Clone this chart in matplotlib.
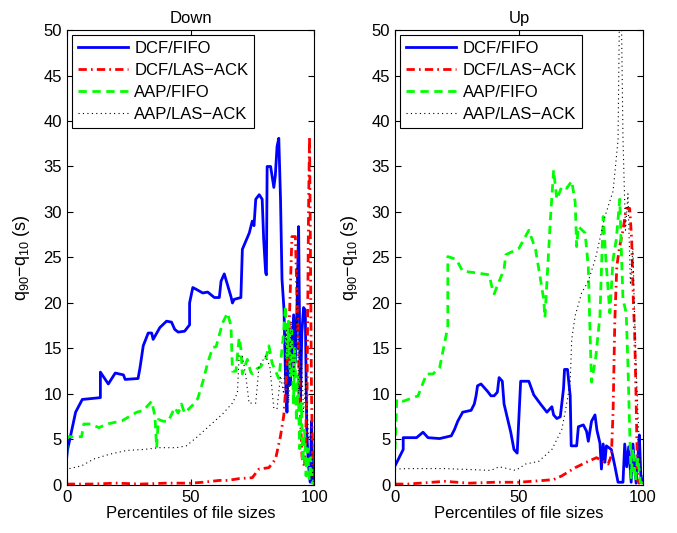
import matplotlib
matplotlib.use("Agg")
import matplotlib.pyplot as plt

plt.rcParams['font.family'] = ['Liberation Sans', 'DejaVu Sans']
plt.rcParams['mathtext.default'] = 'regular'

# ---- Down ----
down_dcf_fifo_x = [0, 0.3, 3.6, 6.3, 10, 13.6, 13.6, 16.8, 19.6, 22.9, 23.6, 28.8, 29.6, 30.9, 32.9, 34.3, 34.9,
                   37.6, 40.3, 42.3, 43.6, 45, 47.6, 49.6, 49.6, 50.9, 52.3, 54.9, 56.9, 59.6, 61.6, 62.3, 63.6,
                   64.9, 66.3, 66.9, 67.6, 70.3, 70.9, 73.7, 74.9, 75.6, 76.3, 77.7, 78.9, 79.5, 80.3, 80.6, 80.9,
                   82.3, 83.6, 84.2, 84.9, 85.6, 86.3, 86.9, 87.7, 88.3, 88.9, 89.6, 90.2, 90.9, 91.6, 92.3, 92.9,
                   93.6, 93.9, 94.3, 94.9, 95.6, 96.3, 96.9, 97.6, 98.3, 98.8, 99.3, 100]
down_dcf_fifo_y = [3.0, 3.8, 8.0, 9.4, 9.5, 9.6, 12.4, 11.1, 12.3, 12.1, 11.6, 11.7, 12.9, 15.3, 16.7, 16.7, 16.0,
                   17.3, 18.0, 17.9, 17.1, 16.8, 16.9, 17.6, 20.0, 21.7, 21.5, 21.1, 21.2, 20.6, 20.6, 22.4, 23.2,
                   22.0, 20.7, 20.0, 20.4, 20.6, 25.9, 27.7, 29.0, 28.5, 31.4, 31.9, 31.4, 27.0, 23.3, 23.1, 35.0,
                   35.0, 32.7, 34.0, 37.2, 38.1, 31.4, 22.6, 19.3, 12.0, 8.0, 17.5, 11.0, 15.0, 18.7, 13.5, 19.0,
                   28.4, 20.0, 8.7, 16.7, 19.5, 19.2, 5.7, 2.1, 0.3, 7.0, 1.0, 0.2]

down_dcf_las_x = [0, 5, 10, 20, 30, 40, 50, 55, 61.6, 65, 69.6, 74.9, 77.6, 81.6, 84.3, 86.3, 87.6, 88.3, 89.6,
                  90.3, 90.9, 92.3, 93.0, 94.0, 95.0, 96.0, 97.0, 97.6, 98.0, 98.4, 98.8, 99.3, 100]
down_dcf_las_y = [0.1, 0.1, 0.1, 0.2, 0.1, 0.2, 0.2, 0.3, 0.5, 0.5, 0.7, 0.8, 1.75, 1.9, 2.85, 5.4, 7.6, 10.2, 16.0,
                  21.9, 27.3, 27.3, 20.0, 10.0, 3.0, 2.0, 10.0, 30.0, 38.3, 25.0, 10.0, 2.0, 0.0]

down_aap_fifo_x = [0, 0.3, 6, 6.9, 9.6, 13, 16.3, 22.3, 28.3, 31, 34.3, 35.6, 36.3, 37, 39, 41, 43.6, 45, 46.3,
                   47.6, 50.9, 52.9, 54.9, 56.9, 58.9, 60.3, 62.9, 64.9, 66.3, 66.9, 68.3, 69.6, 70.3, 70.9, 72.9,
                   74.3, 74.9, 76.9, 78.3, 80.3, 81.6, 82.9, 85.6, 86.3, 87.3, 88.3, 88.9, 89.5, 90.2, 90.8, 91.5,
                   92.1, 92.7, 93.4, 94.0, 94.7, 95.3, 96.0, 96.6, 97.2, 97.9, 98.5, 99.1, 100]
down_aap_fifo_y = [3.5, 5.3, 5.3, 6.7, 6.7, 6.3, 6.7, 7.05, 8.0, 8.2, 9.2, 7.6, 4.1, 7.2, 7.0, 7.0, 8.5, 7.9, 8.9,
                   7.9, 8.8, 9.5, 11.3, 13.4, 15.1, 15.2, 17.8, 18.9, 17.5, 12.5, 12.5, 16.2, 15.0, 12.2, 13.8,
                   12.4, 12.2, 12.8, 13.0, 13.8, 15.3, 13.4, 11.7, 13.4, 16.0, 19.7, 14.0, 18.0, 12.0, 17.0, 9.0,
                   15.0, 7.0, 12.0, 4.0, 9.0, 2.5, 6.0, 1.0, 4.0, 0.5, 3.0, 0.2, 0.5]

down_aap_las_x = [0, 0.3, 6, 10.9, 17.6, 24.3, 30.9, 37.6, 44.3, 48.3, 52.3, 57.6, 62.9, 66.9, 68.9, 69.6, 70.9,
                  72.3, 73.6, 76.3, 77.6, 80.3, 82, 83.6, 84.9, 86.3, 87.6, 88.6, 89.6, 90.6, 91.6, 92.6, 93.0,
                  93.6, 94.6, 95.6, 96.6, 97.6, 98.6, 99.3, 100]
down_aap_las_y = [1.5, 1.75, 2.1, 2.85, 3.4, 3.8, 3.9, 4.1, 4.1, 4.3, 5.2, 6.5, 7.8, 9.0, 10.1, 14.2, 14.2,
                  12.0, 9.0, 9.0, 13.0, 14.2, 13.0, 8.4, 8.4, 12.0, 10.0, 17.0, 9.0, 18.0, 12.0, 16.0, 24.0,
                  10.0, 15.0, 8.0, 12.0, 5.0, 6.0, 1.0, 0.0]

# ---- Up ----
up_dcf_fifo_x = [0, 3.3, 3.3, 8.7, 11.3, 13.3, 18, 22.7, 24, 25.3, 27.3, 30.7, 32, 32.7, 33.3, 34.7, 37.3, 38.7,
                 40, 41.3, 42, 43.3, 44, 45.3, 46.7, 48, 49.3, 50.7, 54, 56, 58.7, 61.3, 63.3, 64, 65.3, 66.7, 68,
                 68.4, 69.6, 70.7, 71.1, 73.3, 74, 76, 77.3, 78, 79.3, 80.7, 81.5, 82.7, 83.3, 84, 84.7, 85.3,
                 87.3, 88.7, 90, 92, 92.7, 93.5, 94.3, 95.3, 96, 97.3, 98, 98.6, 99.2, 100]
up_dcf_fifo_y = [2.1, 3.9, 5.2, 5.2, 5.8, 5.2, 5.1, 5.4, 6.1, 7.0, 8.0, 8.2, 8.9, 9.8, 10.9, 11.1, 10.3, 9.8,
                 9.8, 10.2, 11.8, 11.4, 8.9, 7.4, 5.8, 3.9, 3.5, 11.4, 11.4, 9.9, 8.9, 8.0, 8.6, 7.7, 7.3, 7.5, 10.6,
                 12.7, 12.7, 9.8, 4.3, 4.3, 6.4, 6.6, 5.9, 4.8, 7.0, 7.7, 6.0, 4.6, 1.75, 4.5, 2.5, 4.3,
                 3.9, 2.1, 0.3, 0.3, 4.5, 2.0, 4.2, 0.3, 4.5, 0.2, 3.0, 5.5, 1.0, 0.3]

up_dcf_las_x = [0, 5, 10, 20, 30, 40, 50, 55, 60, 64, 67.3, 72.7, 78, 81.3, 84, 86, 87.3, 88, 88.7, 89.5, 90.5,
                92, 93.3, 94.7, 95.5, 96.2, 96.7, 97.3, 97.9, 98.5, 99.2, 100]
up_dcf_las_y = [0.1, 0.1, 0.2, 0.4, 0.2, 0.3, 0.3, 0.4, 0.5, 0.6, 1.0, 1.9, 2.6, 3.0, 2.6, 2.3, 3.2, 8.0, 18.0,
                24.0, 26.0, 28.0, 30.4, 30.4, 27.0, 20.0, 16.7, 9.4, 0.5, 0.2, 0.3, 0.2]

up_aap_fifo_x = [0, 0.7, 3.3, 9.3, 12.7, 15.3, 18, 20, 21.3, 21.3, 24.7, 27.3, 33, 38, 39.3, 40, 41.3, 44, 44.7,
                 50, 54, 56.7, 58.7, 60, 60.5, 62.7, 64, 65.3, 67.3, 69.3, 71.3, 72.7, 73.3, 74, 76.7, 78, 78.7,
                 79.3, 81, 82.7, 84, 85.3, 86.7, 88, 89.3, 90.7, 91.3, 92, 93.3, 94, 94.7, 95.3, 96, 97, 98, 99, 100]
up_aap_fifo_y = [3.9, 9.4, 9.2, 9.8, 12.2, 12.2, 12.9, 15.6, 17.4, 25.1, 24.8, 23.5, 23.3, 23.1, 21.5, 21.0,
                 21.9, 23.7, 25.3, 26.0, 28.0, 25.9, 22.6, 20.4, 18.4, 29.2, 34.6, 31.4, 32.8, 32.6, 33.4, 31.1,
                 26.2, 28.4, 27.7, 24.0, 16.7, 11.3, 14.0, 18.6, 29.5, 24.0, 18.9, 24.8, 27.0, 31.4, 26.0, 20.4,
                 18.9, 13.2, 6.0, 0.8, 4.0, 0.5, 3.0, 0.3, 0.2]

up_aap_las_x = [0, 5, 10, 20, 30, 38.7, 42, 48.7, 52.7, 58, 63.3, 67.3, 69, 70.7, 71.3, 72.7, 75.3, 78, 81, 84.7,
                88, 90, 90.7, 91.2, 92, 93, 94, 95, 96, 97, 98, 99, 100]
up_aap_las_y = [1.75, 1.8, 1.8, 1.8, 1.7, 1.6, 2.0, 1.6, 2.3, 2.6, 3.9, 6.1, 8.5, 11.3, 16.0, 18.6, 21.1, 22.4,
                25.0, 29.5, 32.3, 37.9, 55, 55, 38.0, 28.0, 32.0, 22.0, 26.0, 15.0, 8.0, 2.0, 0.5]

labels = ['DCF/FIFO', 'DCF/LAS\u2212ACK', 'AAP/FIFO', 'AAP/LAS\u2212ACK']
titles = ['Down', 'Up']

fig = plt.figure(figsize=(6.77, 5.33), dpi=100)
ax1 = fig.add_axes([0.0985, 0.0901, 0.366, 0.8536])
ax2 = fig.add_axes([0.5835, 0.0901, 0.366, 0.8536])

panels = [
    (ax1, down_dcf_fifo_x, down_dcf_fifo_y, down_dcf_las_x, down_dcf_las_y,
     down_aap_fifo_x, down_aap_fifo_y, down_aap_las_x, down_aap_las_y),
    (ax2, up_dcf_fifo_x, up_dcf_fifo_y, up_dcf_las_x, up_dcf_las_y,
     up_aap_fifo_x, up_aap_fifo_y, up_aap_las_x, up_aap_las_y),
]

for i, (ax, x1, y1, x2, y2, x3, y3, x4, y4) in enumerate(panels):
    ax.plot(x1, y1, color='#0000ff', lw=2.0, label=labels[0])
    ax.plot(x2, y2, color='#ff0000', lw=2.0, linestyle=(0, (3, 1.5, 0.6, 1.5)), label=labels[1])
    ax.plot(x3, y3, color='#00ff00', lw=2.0, linestyle=(0, (3, 2)), label=labels[2])
    ax.plot(x4, y4, color='black', lw=0.8, linestyle=(0, (1, 3)), label=labels[3])
    ax.set_xlim(0, 100)
    ax.set_ylim(0, 50)
    ax.set_xticks([0, 50, 100])
    ax.set_yticks(range(0, 51, 5))
    ax.tick_params(direction='in', top=True, right=True, length=4, labelsize=12)
    ax.set_title(titles[i], fontsize=12, pad=5)
    ax.set_xlabel('Percentiles of file sizes', fontsize=12, labelpad=1)
    ax.set_ylabel('q$_{90}$\u2212q$_{10}$ (s)', fontsize=13, labelpad=8)
    leg = ax.legend(loc='upper left', fontsize=12, frameon=True, fancybox=False, framealpha=1,
                    edgecolor='black', handlelength=3.0, labelspacing=0.42, borderpad=0.35,
                    borderaxespad=0.3, handletextpad=0.4)
    leg.get_frame().set_linewidth(0.8)

fig.savefig('out.png', dpi=100)
